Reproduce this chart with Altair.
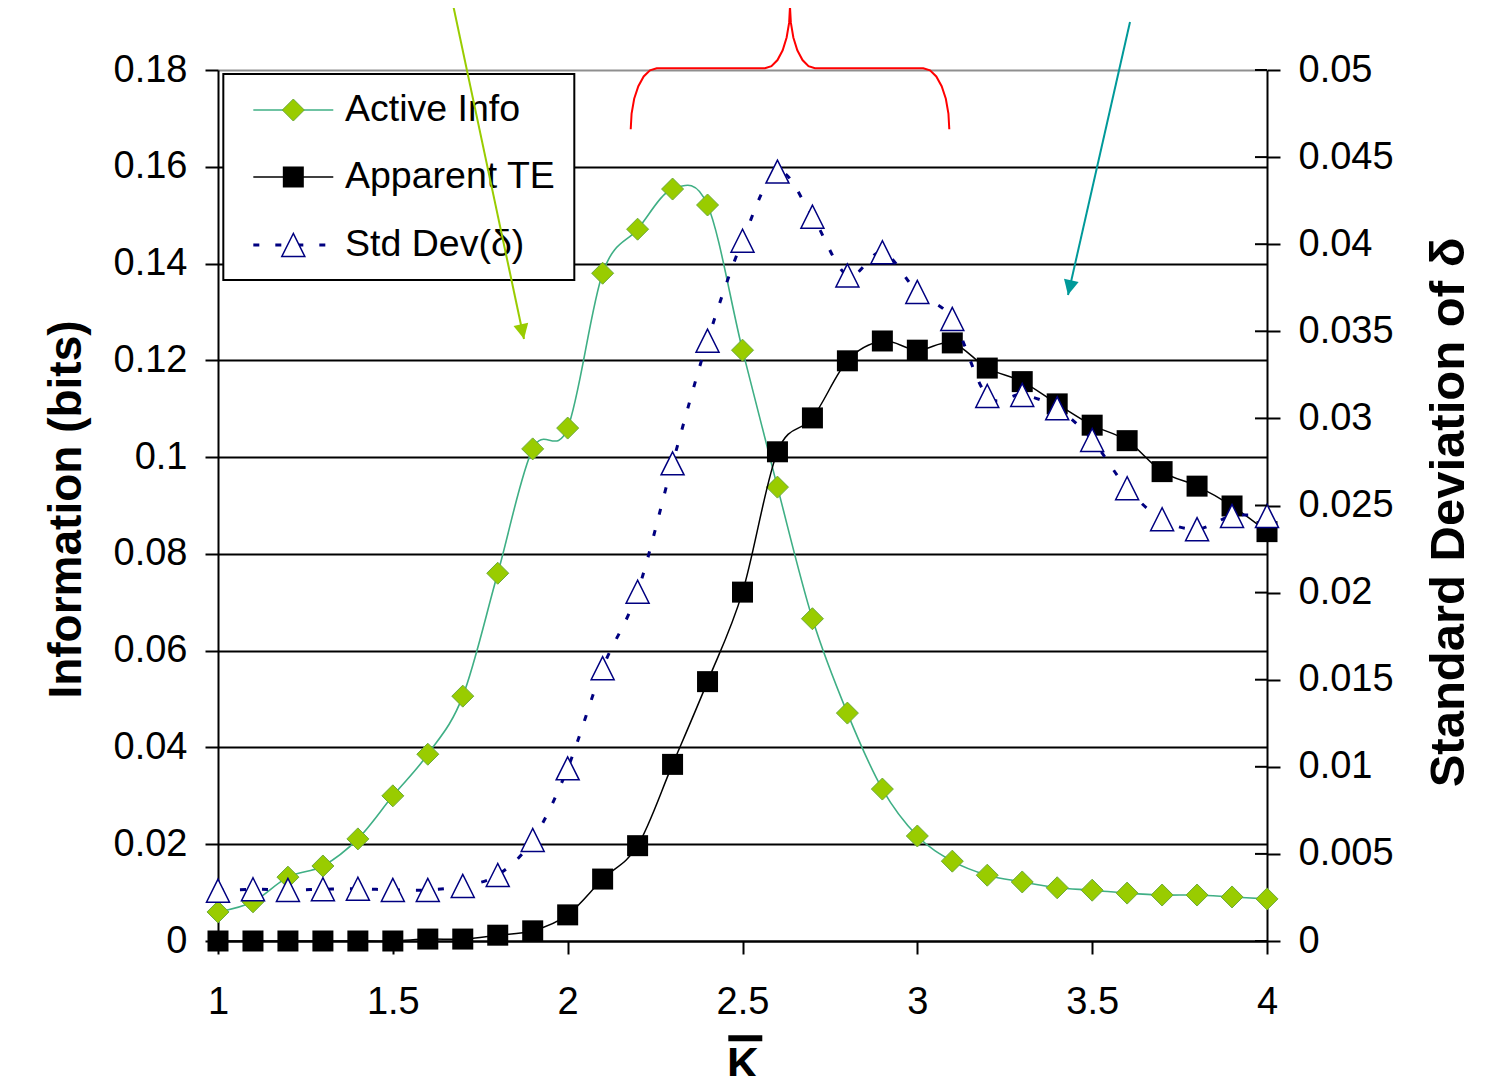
import altair as alt
import pandas as pd

FONT = "Liberation Sans"
PLOT_W, PLOT_H = 1049, 871

# ---------------- data ----------------
k_bar = [1.0, 1.1, 1.2, 1.3, 1.4, 1.5, 1.6, 1.7, 1.8, 1.9, 2.0, 2.1, 2.2, 2.3, 2.4, 2.5,
         2.6, 2.7, 2.8, 2.9, 3.0, 3.1, 3.2, 3.3, 3.4, 3.5, 3.6, 3.7, 3.8, 3.9, 4.0]
active_info = [0.0060, 0.0081, 0.0132, 0.0155, 0.0211, 0.0300, 0.0386, 0.0506, 0.0760, 0.1017,
               0.1060, 0.1380, 0.1471, 0.1554, 0.1521, 0.1221, 0.0938, 0.0666, 0.0471, 0.0314,
               0.0217, 0.0165, 0.0136, 0.0122, 0.0110, 0.0105, 0.0099, 0.0095, 0.0095, 0.0091, 0.0087]
apparent_te = [0.0, 0.0, 0.0, 0.0, 0.0, 0.0, 0.0004, 0.0004, 0.0012, 0.0021,
               0.0054, 0.0128, 0.0197, 0.0365, 0.0536, 0.0721, 0.1011, 0.1081, 0.1199, 0.1240,
               0.1221, 0.1236, 0.1184, 0.1156, 0.1110, 0.1066, 0.1034, 0.0970, 0.0940, 0.0899, 0.0846]
std_dev = [0.00289, 0.00297, 0.00293, 0.00297, 0.00300, 0.00293, 0.00293, 0.00316, 0.00379, 0.0058,
           0.00991, 0.01566, 0.02005, 0.02742, 0.03446, 0.0402, 0.04417, 0.04158, 0.03821, 0.03954,
           0.03726, 0.03571, 0.03129, 0.03135, 0.03058, 0.02876, 0.02599, 0.02421, 0.02364, 0.0244, 0.0244]

x_ticks = [1, 1.5, 2, 2.5, 3, 3.5, 4]
left_ticks = [0, 0.02, 0.04, 0.06, 0.08, 0.1, 0.12, 0.14, 0.16, 0.18]
right_ticks = [0, 0.005, 0.01, 0.015, 0.02, 0.025, 0.03, 0.035, 0.04, 0.045, 0.05]

series_names = ["Active Info", "Apparent TE", "Std Dev(δ)"]

# legend geometry (in data units of the K / left axis)
legend_box_x = [1.0152, 2.0190]
legend_box_y = [0.13660, 0.17918]
legend_row_y = [0.17173, 0.15789, 0.14384]
legend_line_x = [1.1010, 1.3297]
legend_marker_x = 1.2154
legend_text_x = 1.3632

# annotation arrows
arrow_x1 = [1.6692, 3.6082]
arrow_y1 = [0.1945, 0.1899]
arrow_x2 = [1.8751, 3.4309]
arrow_y2 = [0.1244, 0.1335]
arrow_color = ["#99CC00", "#009999"]
arrow_angle = [348.0, 12.8]

# curly brace annotation
brace_x = [2.1803, 2.1828, 2.1902, 2.2021, 2.2174, 2.2354, 2.2546,
           2.5643, 2.5828, 2.6001, 2.6149, 2.6262, 2.6334, 2.6358,
           2.6383, 2.6454, 2.6568, 2.6716, 2.6888, 2.7073,
           3.0171, 3.0363, 3.0542, 3.0696, 3.0815, 3.0889, 3.0914]
brace_y = [0.16775, 0.17101, 0.17405, 0.17666, 0.17866, 0.17992, 0.18035,
           0.18035, 0.18079, 0.18206, 0.18408, 0.18672, 0.18979, 0.19308,
           0.18979, 0.18672, 0.18408, 0.18206, 0.18079, 0.18035,
           0.18035, 0.17992, 0.17866, 0.17666, 0.17405, 0.17101, 0.16775]

# overbar of the K-bar axis title
overbar_x = [2.4594, 2.5566]
overbar_y = -0.0201

df = pd.DataFrame({"K": k_bar, "ai": active_info, "te": apparent_te, "sd": std_dev})

# ---------------- scales & axes ----------------
x_scale = alt.Scale(domain=[1, 4], nice=False, zero=False)
x_axis = alt.Axis(values=x_ticks, format="~g", title="K", titleFont=FONT, titleFontSize=44,
                  titleFontWeight="bold", titleColor="black", titleBaseline="alphabetic",
                  titleY=137, labelFont=FONT, labelFontSize=38, labelColor="black",
                  labelPadding=29, labelFlush=False, labelOverlap=False, tickSize=13,
                  tickColor="black", tickWidth=2, domainColor="black", domainWidth=2, grid=False)

yl_scale = alt.Scale(domain=[0, 0.18], nice=False, zero=False)
yl_axis = alt.Axis(orient="left", values=left_ticks, format="~g", title="Information (bits)",
                   titleFont=FONT, titleFontSize=46, titleFontWeight="bold", titleColor="black",
                   titleAngle=270, titleBaseline="alphabetic", titleAlign="center",
                   titleX=-138, titleY=439, labelFont=FONT, labelFontSize=38, labelColor="black",
                   labelPadding=18, labelOverlap=False, tickSize=13, tickColor="black", tickWidth=2,
                   domainColor="black", domainWidth=2, grid=True, gridWidth=2,
                   gridColor={"condition": {"test": "datum.value > 0.17", "value": "#8f8f8f"},
                              "value": "black"})

yr_scale = alt.Scale(domain=[0, 0.05], nice=False, zero=False)
yr_axis = alt.Axis(orient="right", values=right_ticks, format="~g", title="Standard Deviation of δ",
                   titleFont=FONT, titleFontSize=49, titleFontWeight="bold", titleColor="black",
                   titleAngle=270, titleBaseline="alphabetic", titleAlign="center",
                   titleX=196, titleY=442, labelFont=FONT, labelFontSize=38, labelColor="black",
                   labelPadding=18, labelOverlap=False, tickSize=13, tickColor="black", tickWidth=2,
                   domainColor="black", domainWidth=2, grid=False)

yo_scale = alt.Scale(domain=[0, 0.18], nice=False, zero=False)


def X(field):
    return alt.X(field, type="quantitative", scale=x_scale, axis=x_axis)


def X2(field):
    return alt.X2(field)


def YL(field):
    return alt.Y(field, type="quantitative", scale=yl_scale, axis=yl_axis)


def YR(field):
    return alt.Y(field, type="quantitative", scale=yr_scale, axis=yr_axis)


def YO(field):
    return alt.Y(field, type="quantitative", scale=yo_scale, axis=None)


AI_LINE = "#3FAF85"
AI_FILL = "#99CC00"
AI_EDGE = "#6BAA3A"
NAVY = "#000080"
TRI = "M0,-1L-1,1L1,1Z"
HEAD = "M0,0L-0.5,-1L0.5,-1Z"

# ---------------- left-axis series ----------------
ai_line = alt.Chart(df).mark_line(interpolate="cardinal", tension=0, color=AI_LINE,
                                  strokeWidth=1.6).encode(x=X("K"), y=YL("ai"))
ai_pts = alt.Chart(df).mark_point(shape="diamond", size=484, filled=True, fill=AI_FILL,
                                  stroke=AI_EDGE, strokeWidth=1, opacity=1).encode(x=X("K"), y=YL("ai"))
te_line = alt.Chart(df).mark_line(interpolate="cardinal", tension=0, color="black",
                                  strokeWidth=1.5).encode(x=X("K"), y=YL("te"))
te_pts = alt.Chart(df).mark_point(shape="square", size=441, filled=True, color="black",
                                  opacity=1).encode(x=X("K"), y=YL("te"))
left_group = alt.layer(ai_line, ai_pts, te_line, te_pts)

# ---------------- right-axis series ----------------
sd_line = alt.Chart(df).mark_line(interpolate="cardinal", tension=0, color=NAVY, strokeWidth=3,
                                  strokeDash=[6, 16]).encode(x=X("K"), y=YR("sd"))
sd_pts = alt.Chart(df).mark_point(shape=TRI, size=529, filled=True, fill="white", stroke=NAVY,
                                  strokeWidth=1.5, opacity=1).encode(x=X("K"), y=YR("sd"))
rt_df = pd.DataFrame({"v": right_ticks})
sd_inner_ticks = alt.Chart(rt_df).mark_rule(color="black", strokeWidth=2).encode(
    x=alt.value(PLOT_W - 12), x2=alt.value(PLOT_W), y=YR("v"))
right_group = alt.layer(sd_line, sd_pts, sd_inner_ticks)

# ---------------- legend & annotations ----------------
box_df = pd.DataFrame({"x1": [legend_box_x[0]], "x2": [legend_box_x[1]],
                       "y1": [legend_box_y[0]], "y2": [legend_box_y[1]]})
legend_box = alt.Chart(box_df).mark_rect(fill="white", stroke="black", strokeWidth=2).encode(
    x=X("x1"), x2=X2("x2"), y=YO("y1"), y2=alt.Y2("y2"))

leg_df = pd.DataFrame({"label": series_names, "ly": legend_row_y,
                       "lx1": [legend_line_x[0]] * 3, "lx2": [legend_line_x[1]] * 3,
                       "mx": [legend_marker_x] * 3, "tx": [legend_text_x] * 3})
leg_ai = leg_df.iloc[[0]]
leg_te = leg_df.iloc[[1]]
leg_sd = leg_df.iloc[[2]]

leg_ai_line = alt.Chart(leg_ai).mark_rule(color=AI_LINE, strokeWidth=1.6).encode(
    x=X("lx1"), x2=X2("lx2"), y=YO("ly"))
leg_ai_pt = alt.Chart(leg_ai).mark_point(shape="diamond", size=484, filled=True, fill=AI_FILL,
                                         stroke=AI_EDGE, strokeWidth=1, opacity=1).encode(
    x=X("mx"), y=YO("ly"))
leg_te_line = alt.Chart(leg_te).mark_rule(color="black", strokeWidth=1.5).encode(
    x=X("lx1"), x2=X2("lx2"), y=YO("ly"))
leg_te_pt = alt.Chart(leg_te).mark_point(shape="square", size=441, filled=True, color="black",
                                         opacity=1).encode(x=X("mx"), y=YO("ly"))
leg_sd_line = alt.Chart(leg_sd).mark_rule(color=NAVY, strokeWidth=3, strokeDash=[6, 16]).encode(
    x=X("lx1"), x2=X2("lx2"), y=YO("ly"))
leg_sd_pt = alt.Chart(leg_sd).mark_point(shape=TRI, size=529, filled=True, fill="white",
                                         stroke=NAVY, strokeWidth=1.5, opacity=1).encode(
    x=X("mx"), y=YO("ly"))
leg_text = alt.Chart(leg_df).mark_text(align="left", baseline="middle", font=FONT, fontSize=37.5,
                                       color="black").encode(x=X("tx"), y=YO("ly"), text="label:N")

arr_df = pd.DataFrame({"x1": arrow_x1, "y1": arrow_y1, "x2": arrow_x2, "y2": arrow_y2,
                       "c": arrow_color, "ang": arrow_angle})
arrow_shafts = alt.Chart(arr_df).mark_rule(strokeWidth=2).encode(
    x=X("x1"), y=YO("y1"), x2=X2("x2"), y2=alt.Y2("y2"),
    color=alt.Color("c:N", scale=None))
arrow_heads = alt.Chart(arr_df).mark_point(shape=HEAD, size=900, filled=True, opacity=1).encode(
    x=X("x2"), y=YO("y2"), color=alt.Color("c:N", scale=None),
    angle=alt.Angle("ang:Q", scale=None))

brace_df = pd.DataFrame({"bx": brace_x, "by": brace_y, "order": list(range(len(brace_x)))})
brace = alt.Chart(brace_df).mark_line(color="#FF0000", strokeWidth=2).encode(
    x=X("bx"), y=YO("by"), order="order:Q")

bar_df = pd.DataFrame({"x1": [overbar_x[0]], "x2": [overbar_x[1]], "y": [overbar_y]})
overbar = alt.Chart(bar_df).mark_rule(color="black", strokeWidth=6).encode(
    x=X("x1"), x2=X2("x2"), y=YO("y"))

overlay_group = alt.layer(legend_box, leg_ai_line, leg_ai_pt, leg_te_line, leg_te_pt,
                          leg_sd_line, leg_sd_pt, leg_text, arrow_shafts, arrow_heads,
                          brace, overbar)

chart = alt.layer(left_group, right_group, overlay_group).resolve_scale(
    y="independent"
).properties(
    width=PLOT_W, height=PLOT_H,
    padding={"left": 210, "top": 62, "right": 236, "bottom": 135},
    autosize=alt.AutoSizeParams(type="none"),
    background="white",
).configure_view(stroke=None)

chart.save("out.html", embed_options={"renderer": "svg", "actions": False})
